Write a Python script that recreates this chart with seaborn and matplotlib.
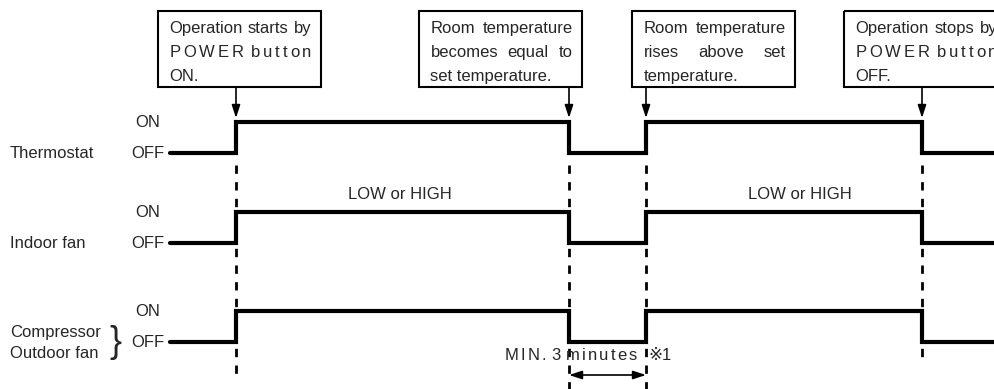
import pandas as pd
import seaborn as sns
import matplotlib.pyplot as plt
from matplotlib.patches import Rectangle

# timing chart data (time in chart units, 10 px per unit)
t_start = 17.0
t_end = 99.5
events = [23.6, 56.9, 64.6, 92.2]
signals = ["Thermostat", "Indoor fan", "Compressor"]
thermostat_state = [0, 1, 0, 1, 0]
indoor_fan_state = [0, 1, 0, 1, 0]
compressor_state = [0, 1, 0, 1, 0]
row_labels = ["Thermostat", "Indoor fan", "Compressor\nOutdoor fan"]
level_labels = ["ON", "OFF"]
notes = [
    ["Operation starts by", "POWER button", "ON."],
    ["Room temperature", "becomes equal to", "set temperature."],
    ["Room temperature", "rises above set", "temperature."],
    ["Operation stops by", "POWER button", "OFF."],
]
note_modes = [
    ["words", "chars", "left"],
    ["words", "words", "left"],
    ["words", "words", "left"],
    ["words", "chars", "left"],
]
fan_mode = "LOW or HIGH"
min_off = "MIN. 3 minutes"
min_off_note = "\u203b1"

# layout (y in pixel rows, top = 0)
row_off_y = [153, 243, 342]
amp = 31
box_left = [15.8, 41.9, 63.2, 84.4]
box_w = 16.3
box_top, box_bot = 11, 87
FS = 12

sns.set_theme(style="white")
plt.rcParams["font.family"] = ["Liberation Sans", "DejaVu Sans", "Noto Sans CJK JP"]

fig = plt.figure(figsize=(9.95, 3.89), dpi=100)
ax = fig.add_axes([0, 0, 1, 1])

# dashed event markers
dash_end = [375, 389, 389, 360]
for t, y1 in zip(events, dash_end):
    ax.plot([t, t], [165, y1], color="black", lw=2, ls=(0, (3, 3)), zorder=1)

# step signals
rows = []
for name, st, off in zip(signals, [thermostat_state, indoor_fan_state, compressor_state], row_off_y):
    times = [t_start] + events + [t_end]
    vals = st + [st[-1]]
    for t, v in zip(times, vals):
        rows.append({"signal": name, "t": t, "y": off - v * amp})
df = pd.DataFrame(rows)
sns.lineplot(data=df, x="t", y="y", hue="signal", palette=["black"] * 3, legend=False,
             estimator=None, sort=False, drawstyle="steps-post", lw=3,
             solid_joinstyle="miter", ax=ax, zorder=3)
ax.set_xlim(0, 99.5)
ax.set_ylim(389, 0)
ax.axis("off")

# row labels
for lab, off in zip(row_labels, row_off_y):
    ax.text(14.8, off - amp + 5, level_labels[0], fontsize=FS, ha="center", va="baseline")
    ax.text(14.8, off + 5, level_labels[1], fontsize=FS, ha="center", va="baseline")
    parts = lab.split("\n")
    if len(parts) == 1:
        ax.text(1.0, off + 5, lab, fontsize=FS, ha="left", va="baseline")
    else:
        ax.text(1.0, off - 5, parts[0], fontsize=FS, ha="left", va="baseline")
        ax.text(1.0, off + 16, parts[1], fontsize=FS, ha="left", va="baseline")
        ax.text(11.5, off + 1, "}", fontsize=26, ha="center", va="center")

renderer = fig.canvas.get_renderer()
px_per_unit = ax.transData.transform((1, 0))[0] - ax.transData.transform((0, 0))[0]


def text_w(s):
    t = ax.text(0, 0, s, fontsize=FS)
    w = t.get_window_extent(renderer).width / px_per_unit
    t.remove()
    return w


def put_line(s, x0, x1, y, mode):
    # spread a line over x0..x1 like justified print
    if mode == "left":
        ax.text(x0, y, s, fontsize=FS, ha="left", va="baseline")
        return
    if mode == "words":
        tokens = s.split(" ")
        weights = [1.0] * (len(tokens) - 1)
    else:
        tokens, weights = [], []
        gap = 1.0
        for ch in s:
            if ch == " ":
                gap = 2.5
                continue
            if tokens:
                weights.append(gap)
            tokens.append(ch)
            gap = 1.0
    widths = [text_w(tk) for tk in tokens]
    extra = (x1 - x0) - sum(widths)
    g = extra / sum(weights) if weights else 0
    x = x0
    for i, (tk, w) in enumerate(zip(tokens, widths)):
        ax.text(x, y, tk, fontsize=FS, ha="left", va="baseline")
        if i < len(weights):
            x += w + g * weights[i]


baselines = [33, 57, 81]
for bx, t, lines, modes in zip(box_left, events, notes, note_modes):
    ax.add_patch(Rectangle((bx, box_top), box_w, box_bot - box_top, fill=False,
                           lw=1.5, ec="black", zorder=2))
    for s, m, y in zip(lines, modes, baselines):
        put_line(s, bx + 1.15, bx + box_w - 0.95, y, m)
    ax.annotate("", xy=(t, 118), xytext=(t, box_bot),
                arrowprops=dict(arrowstyle="-|>,head_length=0.55,head_width=0.18",
                                color="black", lw=1.2, shrinkA=0, shrinkB=0,
                                mutation_scale=14))

ax.text(40.0, 199, fan_mode, fontsize=FS, ha="center", va="baseline")
ax.text(80.0, 199, fan_mode, fontsize=FS, ha="center", va="baseline")

put_line(min_off, 50.5, 63.7, 360, "chars")
ax.text(64.8, 360, min_off_note, fontsize=FS, ha="left", va="baseline")
ax.annotate("", xy=(events[2], 375), xytext=(events[1], 375),
            arrowprops=dict(arrowstyle="<|-|>,head_length=0.55,head_width=0.18",
                            color="black", lw=1.2, shrinkA=0, shrinkB=0,
                            mutation_scale=14))

fig.savefig("out.png", dpi=100)
